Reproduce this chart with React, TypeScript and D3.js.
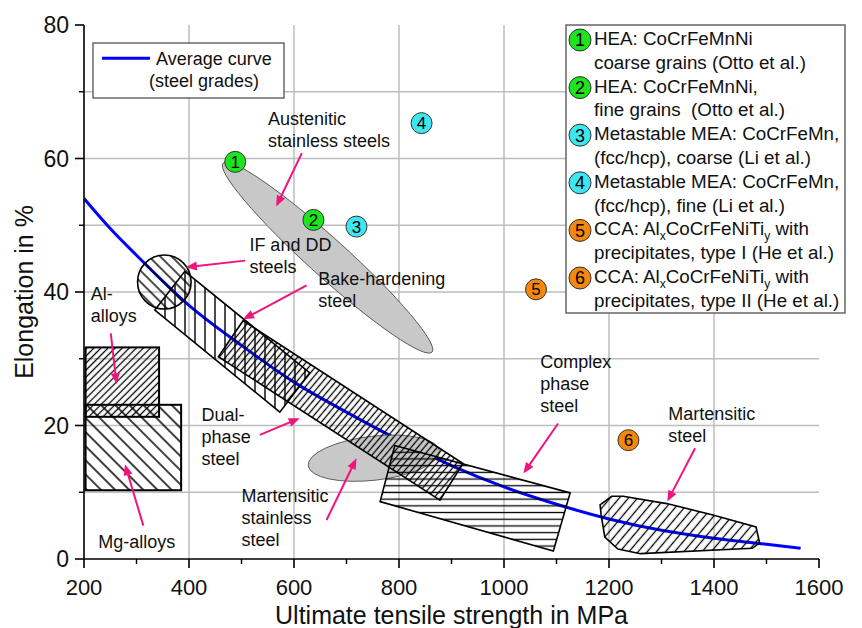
import React from 'react';
import * as d3 from 'd3';

// ---------- data ----------
const xTicks = [200, 400, 600, 800, 1000, 1200, 1400, 1600];
const xMinorTicks = [300, 500, 700, 900, 1100, 1300, 1500];
const xGrid = [400, 600, 800, 1000, 1200, 1400];
const yTicks = [0, 20, 40, 60, 80];
const yMinorTicks = [10, 30, 50, 70];
const yGrid = [10, 20, 30, 40, 50, 60, 70];

const curveUTS = [200, 250, 300, 400, 500, 600, 700, 800, 900, 1000, 1100, 1200, 1300, 1400, 1500, 1565];
const curveElong = [54, 49.5, 45.5, 38, 32, 26.5, 22, 17.8, 14, 10.8, 8.2, 6, 4.3, 3.1, 2.2, 1.6];

const markerLabels = ['1', '2', '3', '4', '5', '6'];
const markerUTS = [488, 637, 719, 843, 1061, 1237];
const markerElong = [59.5, 50.8, 49.8, 65.3, 40.4, 17.8];
const markerGroup = ['HEA', 'HEA', 'MEA', 'MEA', 'CCA', 'CCA'];

const legendFirst = ['HEA: CoCrFeMnNi', 'HEA: CoCrFeMnNi,', 'Metastable MEA: CoCrFeMn,', 'Metastable MEA: CoCrFeMn,', 'CCA', 'CCA'];
const legendSecond = ['coarse grains (Otto et al.)', 'fine grains  (Otto et al.)', '(fcc/hcp), coarse (Li et al.)', '(fcc/hcp), fine (Li et al.)', 'precipitates, type I (He et al.)', 'precipitates, type II (He et al.)'];

const alUTS = [203, 343];
const alElong = [21.3, 31.7];
const mgUTS = [203, 385];
const mgElong = [10.3, 23.1];
const ifCenter = [353, 41.5];
const ifRadius = [51, 4.05];
const bakeUTS = [335, 392, 630, 573];
const bakeElong = [37.3, 43.1, 27.9, 22.0];
const dualUTS = [503, 922, 878, 456];
const dualElong = [35.7, 14.3, 8.8, 30.3];
const complexUTS = [792, 1126, 1094, 764];
const complexElong = [17.0, 9.9, 1.2, 8.6];
const martUTS = [1183, 1205, 1227, 1310, 1398, 1480, 1487, 1473, 1260, 1217, 1192, 1185];
const martElong = [8.1, 9.4, 9.4, 8.3, 6.6, 4.8, 2.4, 1.6, 0.8, 1.5, 3.3, 6.6];
const austeniticAxisUTS = [465, 863];
const austeniticAxisElong = [59.3, 31.0];
const martStainlessCenter = [752, 15.1];
const martStainlessRadius = [125.7, 3.3];

const labelLines = [
  ['Austenitic', 'stainless steels'],
  ['IF and DD', 'steels'],
  ['Bake-hardening', 'steel'],
  ['Dual-', 'phase', 'steel'],
  ['Martensitic', 'stainless', 'steel'],
  ['Complex', 'phase', 'steel'],
  ['Martensitic', 'steel'],
  ['Al-', 'alloys'],
  ['Mg-alloys'],
];
const labelUTS = [550.5, 515, 646, 424, 500, 1069, 1313, 213, 227];
const labelElong = [65.0, 46.1, 41.05, 20.7, 8.54, 28.6, 20.8, 38.8, 1.65];

const arrowFromUTS = [615, 507, 624, 535, 662, 1103, 1364, 251, 313];
const arrowFromElong = [60.8, 44.7, 41.0, 18.6, 5.84, 20.3, 16.6, 33.8, 5.0];
const arrowToUTS = [566, 394, 503, 611, 719, 1037, 1311, 262, 278];
const arrowToElong = [52.8, 43.7, 35.9, 21.1, 15.1, 12.8, 8.6, 26.2, 14.2];

// ---------- layout ----------
const W = 862;
const H = 628;
const L = 84, R = 819, T = 25, B = 559;
const FONT = "'Liberation Sans', Arial, Helvetica, sans-serif";
const PINK = '#f0157d';
const colorOf: Record<string, string> = { HEA: '#1ee41e', MEA: '#3ee6f2', CCA: '#f5870f' };

function Hatch({ id, spacing, angle, sw = 1.2 }: { id: string; spacing: number; angle: number; sw?: number }) {
  return (
    <pattern id={id} patternUnits="userSpaceOnUse" width={spacing} height={spacing} patternTransform={`rotate(${angle})`}>
      <line x1={spacing / 2} y1={-1} x2={spacing / 2} y2={spacing + 1} stroke="#000" strokeWidth={sw} />
    </pattern>
  );
}

export default function App() {
  const x = d3.scaleLinear().domain([200, 1600]).range([L, R]);
  const y = d3.scaleLinear().domain([0, 80]).range([B, T]);

  const curvePath = d3
    .line<number>()
    .x((_, i) => x(curveUTS[i]))
    .y((_, i) => y(curveElong[i]))
    .curve(d3.curveMonotoneX)(curveUTS) as string;

  const poly = (xs: number[], ys: number[]) =>
    d3
      .line<number>()
      .x((_, i) => x(xs[i]))
      .y((_, i) => y(ys[i]))
      .curve(d3.curveLinearClosed)(xs) as string;

  const ax1 = x(austeniticAxisUTS[0]), ay1 = y(austeniticAxisElong[0]);
  const ax2 = x(austeniticAxisUTS[1]), ay2 = y(austeniticAxisElong[1]);
  const acx = (ax1 + ax2) / 2, acy = (ay1 + ay2) / 2;
  const arx = Math.hypot(ax2 - ax1, ay2 - ay1) / 2;
  const aang = (Math.atan2(ay2 - ay1, ax2 - ax1) * 180) / Math.PI;

  const mcx = x(martStainlessCenter[0]), mcy = y(martStainlessCenter[1]);
  const mrx = x(martStainlessCenter[0] + martStainlessRadius[0]) - mcx;
  const mry = mcy - y(martStainlessCenter[1] + martStainlessRadius[1]);

  const icx = x(ifCenter[0]), icy = y(ifCenter[1]);
  const irx = x(ifCenter[0] + ifRadius[0]) - icx;
  const iry = icy - y(ifCenter[1] + ifRadius[1]);

  const legendBase = 45;
  const legendStep = 23.8;
  const LF = 18.8;

  return (
    <svg width={W} height={H} style={{ position: 'absolute', left: 0, top: 0, background: '#fff' }} fontFamily={FONT}>
      <defs>
        <Hatch id="hAl" spacing={5} angle={45} sw={1.3} />
        <Hatch id="hMg" spacing={10} angle={-45} sw={1.5} />
        <Hatch id="hIf" spacing={8} angle={-45} sw={1.4} />
        <Hatch id="hBake" spacing={10} angle={0} sw={1.4} />
        <Hatch id="hDual" spacing={5} angle={40} sw={1.3} />
        <Hatch id="hComplex" spacing={6.7} angle={90} sw={1.3} />
        <Hatch id="hMart" spacing={7} angle={40} sw={1.3} />
      </defs>
      <rect x={0} y={0} width={W} height={H} fill="#fff" />

      {xGrid.map((v) => (
        <line key={'gx' + v} x1={x(v)} x2={x(v)} y1={T} y2={B} stroke="#bdbdbd" strokeWidth={1.5} />
      ))}
      {yGrid.map((v) => (
        <line key={'gy' + v} x1={L} x2={R} y1={y(v)} y2={y(v)} stroke="#bdbdbd" strokeWidth={1.5} />
      ))}

      <path d={curvePath} fill="none" stroke="#0000ff" strokeWidth={3} />

      <ellipse cx={acx} cy={acy} rx={arx} ry={19} transform={`rotate(${aang} ${acx} ${acy})`} fill="#c8c8c8" stroke="#555" strokeWidth={0.9} />
      <ellipse cx={mcx} cy={mcy} rx={mrx} ry={mry} transform={`rotate(-6.5 ${mcx} ${mcy})`} fill="#c8c8c8" stroke="#555" strokeWidth={0.9} />

      <rect x={x(mgUTS[0])} y={y(mgElong[1])} width={x(mgUTS[1]) - x(mgUTS[0])} height={y(mgElong[0]) - y(mgElong[1])} fill="url(#hMg)" stroke="#000" strokeWidth={2} />
      <rect x={x(alUTS[0])} y={y(alElong[1])} width={x(alUTS[1]) - x(alUTS[0])} height={y(alElong[0]) - y(alElong[1])} fill="url(#hAl)" stroke="#000" strokeWidth={2} />
      <path d={poly(bakeUTS, bakeElong)} fill="url(#hBake)" stroke="#000" strokeWidth={1.6} />
      <ellipse cx={icx} cy={icy} rx={irx} ry={iry} fill="url(#hIf)" stroke="#000" strokeWidth={1.6} />
      <path d={poly(dualUTS, dualElong)} fill="url(#hDual)" stroke="#000" strokeWidth={1.6} />
      <path d={poly(complexUTS, complexElong)} fill="url(#hComplex)" stroke="#000" strokeWidth={1.6} />
      <path d={poly(martUTS, martElong)} fill="url(#hMart)" stroke="#000" strokeWidth={1.6} />

      {markerLabels.map((m, i) => (
        <g key={'m' + m}>
          <circle cx={x(markerUTS[i])} cy={y(markerElong[i])} r={10.5} fill={colorOf[markerGroup[i]]} stroke="#333" strokeWidth={1} />
          <text x={x(markerUTS[i])} y={y(markerElong[i])} dy="0.36em" textAnchor="middle" fontSize={17} fill="#000">
            {m}
          </text>
        </g>
      ))}

      {arrowFromUTS.map((_, i) => {
        const x1 = x(arrowFromUTS[i]), y1 = y(arrowFromElong[i]);
        const x2 = x(arrowToUTS[i]), y2 = y(arrowToElong[i]);
        const len = Math.hypot(x2 - x1, y2 - y1);
        const ux = (x2 - x1) / len, uy = (y2 - y1) / len;
        const hl = 11, hw = 4.5;
        const bx = x2 - ux * hl, by = y2 - uy * hl;
        const pts = `${x2},${y2} ${bx - uy * hw},${by + ux * hw} ${bx + uy * hw},${by - ux * hw}`;
        return (
          <g key={'a' + i}>
            <line x1={x1} y1={y1} x2={bx + ux * 2} y2={by + uy * 2} stroke={PINK} strokeWidth={2} />
            <polygon points={pts} fill={PINK} />
          </g>
        );
      })}

      {labelLines.map((lines, i) => (
        <text key={'l' + i} x={x(labelUTS[i])} y={y(labelElong[i])} fontSize={18} fill="#111">
          {lines.map((t, j) => (
            <tspan key={j} x={x(labelUTS[i])} dy={j === 0 ? 0 : 22}>
              {t}
            </tspan>
          ))}
        </text>
      ))}

      <line x1={L} x2={L} y1={T} y2={B} stroke="#000" strokeWidth={1.6} />
      <line x1={L} x2={R} y1={B} y2={B} stroke="#000" strokeWidth={1.6} />
      {xTicks.map((v) => (
        <g key={'xt' + v}>
          <line x1={x(v)} x2={x(v)} y1={B} y2={B + 9} stroke="#000" strokeWidth={1.6} />
          <text x={x(v)} y={595} textAnchor="middle" fontSize={22} fill="#111">
            {v}
          </text>
        </g>
      ))}
      {xMinorTicks.map((v) => (
        <line key={'xm' + v} x1={x(v)} x2={x(v)} y1={B} y2={B + 5} stroke="#000" strokeWidth={1.4} />
      ))}
      {yTicks.map((v) => (
        <g key={'yt' + v}>
          <line x1={L - 9} x2={L} y1={y(v)} y2={y(v)} stroke="#000" strokeWidth={1.6} />
          <text x={69} y={y(v)} dy="0.36em" textAnchor="end" fontSize={23} fill="#111">
            {v}
          </text>
        </g>
      ))}
      {yMinorTicks.map((v) => (
        <line key={'ym' + v} x1={L - 5} x2={L} y1={y(v)} y2={y(v)} stroke="#000" strokeWidth={1.4} />
      ))}
      <text x={(L + R) / 2} y={624} textAnchor="middle" fontSize={25} fill="#111">
        Ultimate tensile strength in MPa
      </text>
      <text transform={`translate(33 ${(T + B) / 2}) rotate(-90)`} textAnchor="middle" fontSize={25} fill="#111">
        Elongation in %
      </text>

      <rect x={93} y={43} width={191} height={55} fill="#fff" stroke="#444" strokeWidth={1.2} />
      <line x1={102} x2={150} y1={58.3} y2={58.3} stroke="#0000ff" strokeWidth={3} />
      <text x={156} y={65} fontSize={18} fill="#111">Average curve</text>
      <text x={149} y={87} fontSize={18} fill="#111">(steel grades)</text>

      <rect x={566} y={25} width={279} height={288} fill="#fff" stroke="#666" strokeWidth={1.5} />
      {markerLabels.map((m, i) => {
        const b1 = legendBase + 2 * i * legendStep;
        const b2 = b1 + legendStep;
        return (
          <g key={'lg' + m}>
            <circle cx={580} cy={b1 - 5} r={11} fill={colorOf[markerGroup[i]]} stroke="#333" strokeWidth={1} />
            <text x={580} y={b1 - 5} dy="0.36em" textAnchor="middle" fontSize={18} fill="#000">{m}</text>
            {legendFirst[i] === 'CCA' ? (
              <text x={594} y={b1} fontSize={LF} fill="#111">
                CCA: Al<tspan fontSize={12} dy={5}>x</tspan>
                <tspan dy={-5}>CoCrFeNiTi</tspan>
                <tspan fontSize={12} dy={5}>y</tspan>
                <tspan dy={-5}> with</tspan>
              </text>
            ) : (
              <text x={594} y={b1} fontSize={LF} fill="#111">{legendFirst[i]}</text>
            )}
            <text x={594} y={b2} fontSize={LF} fill="#111" style={{ whiteSpace: 'pre' }}>{legendSecond[i]}</text>
          </g>
        );
      })}
    </svg>
  );
}
